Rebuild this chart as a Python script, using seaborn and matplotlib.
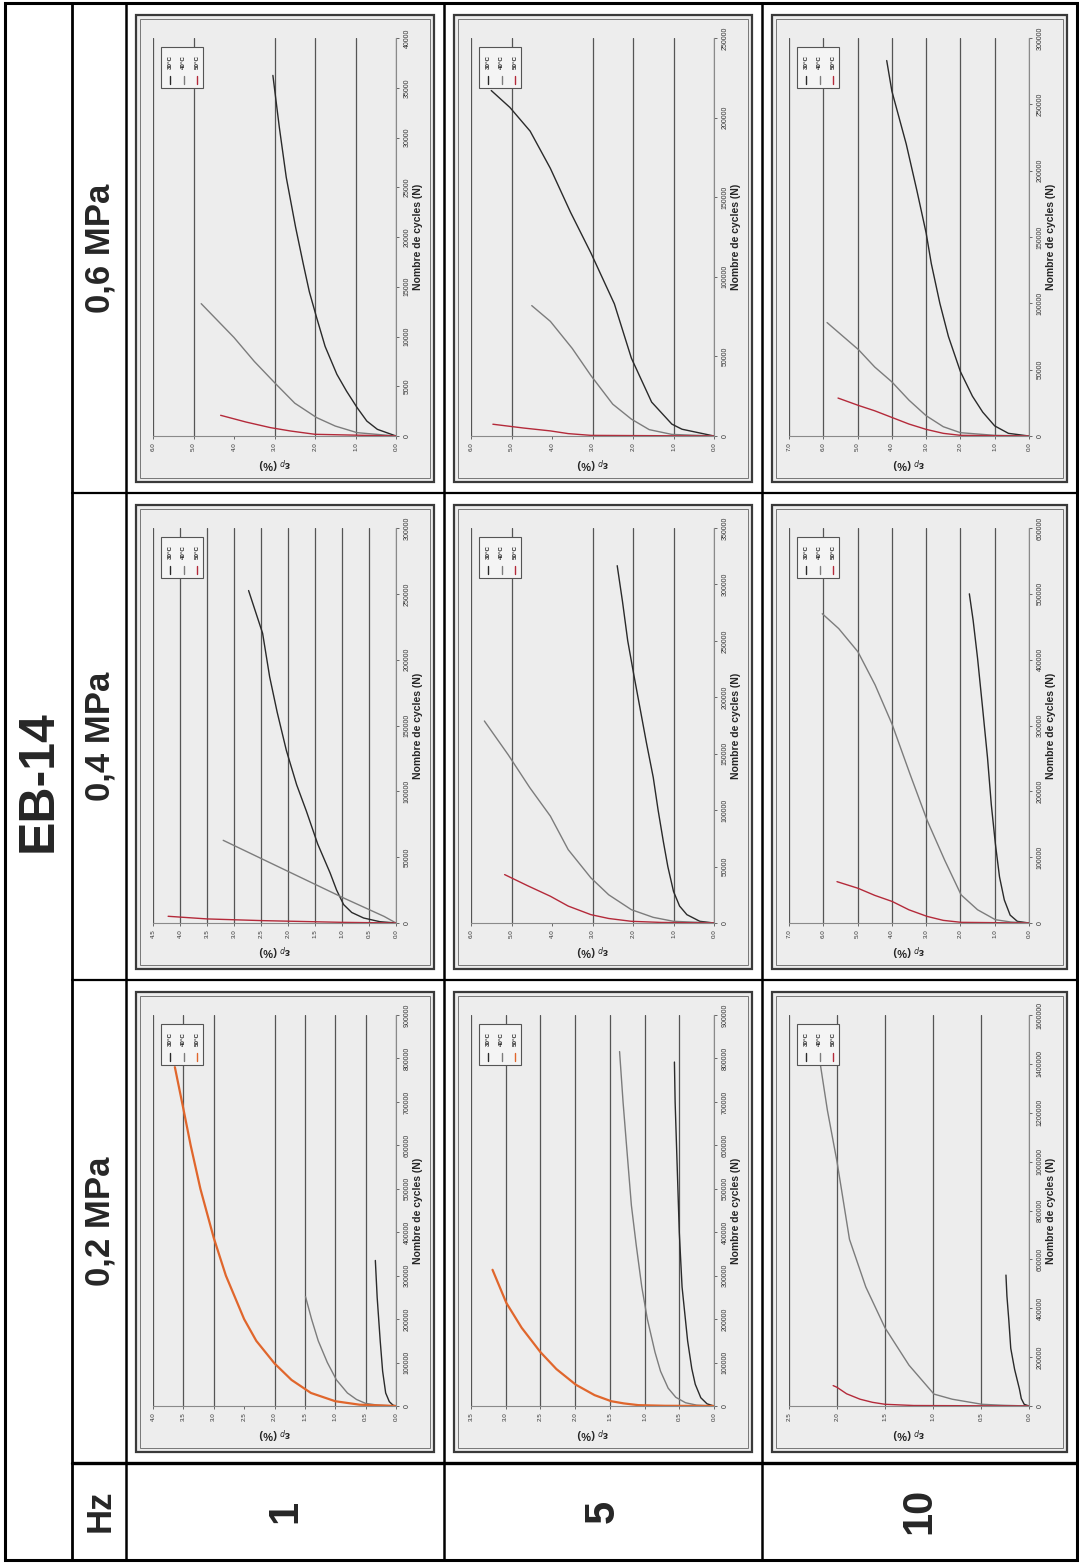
import numpy as np
import pandas as pd
import matplotlib
matplotlib.use("Agg")
import matplotlib.pyplot as plt
from matplotlib.patches import Rectangle
from matplotlib.ticker import FuncFormatter
import seaborn as sns

# Style de base, puis police (set_theme remet font.family à zéro)
sns.set_theme(style="white")
plt.rcParams["font.family"] = ["Liberation Sans", "DejaVu Sans"]

# Tableau EB-14 : déformation permanente en fonction du nombre de cycles
titre = "EB-14"
pressions = ["0,6 MPa", "0,4 MPa", "0,2 MPa"]   # lignes de la page (haut -> bas)
frequences = ["1", "5", "10"]                    # colonnes de la page (gauche -> droite)
temperatures = ["30°C", "40°C", "50°C"]
label_n = "Nombre de cycles (N)"
label_ep = "ε$_p$ (%)"

# Limites des axes [pression][fréquence]
ep_max = [[6.0, 6.0, 7.0], [4.5, 6.0, 7.0], [4.0, 3.5, 2.5]]
ep_pas = [[1.0, 1.0, 1.0], [0.5, 1.0, 1.0], [0.5, 0.5, 0.5]]
n_max = [[40000, 250000, 300000], [300000, 350000, 600000], [900000, 900000, 1600000]]
n_pas = [[5000, 50000, 50000], [50000, 50000, 100000], [100000, 100000, 200000]]

# Courbes (30°C, 40°C, 50°C) : nombre de cycles et déformation (%)
n_1hz_06 = ([0, 670, 1500, 2850, 4500, 6200, 9000, 11900, 14500, 17300, 21000, 26000, 31000, 36240],
            [0, 335, 1000, 1850, 3300, 5200, 7500, 9900, 13300],
            [0, 170, 500, 840, 1400, 2080])
ep_1hz_06 = ([0, 0.46, 0.72, 0.96, 1.22, 1.46, 1.75, 1.96, 2.14, 2.29, 2.48, 2.71, 2.88, 3.04],
             [0, 0.96, 1.5, 1.96, 2.5, 2.96, 3.5, 4.0, 4.81],
             [0, 2.0, 2.6, 3.1, 3.7, 4.33])

n_5hz_06 = ([0, 4260, 7450, 21300, 48900, 83000, 115000, 140400, 168100, 191500, 206400, 217000],
            [0, 1000, 4000, 10600, 20000, 38000, 55000, 72000, 81900],
            [0, 400, 1500, 3200, 5000, 7400])
ep_5hz_06 = ([0, 0.79, 1.04, 1.54, 2.04, 2.46, 3.04, 3.54, 4.04, 4.54, 5.04, 5.5],
             [0, 1.04, 1.6, 2.04, 2.5, 3.04, 3.5, 4.04, 4.5],
             [0, 3.04, 3.6, 4.04, 4.7, 5.46])

n_10hz_06 = ([0, 2000, 7600, 18000, 30000, 48500, 75000, 100000, 130000, 153000, 185000, 220000, 260000, 283000],
             [0, 500, 2500, 7000, 15300, 27000, 40800, 52000, 65000, 85500],
             [0, 500, 2000, 5000, 9000, 14000, 19000, 23000, 28600])
ep_10hz_06 = ([0, 0.6, 1.0, 1.35, 1.65, 2.0, 2.35, 2.6, 2.85, 3.0, 3.27, 3.58, 4.0, 4.15],
              [0, 1.0, 2.0, 2.5, 3.0, 3.5, 4.0, 4.5, 4.97, 5.89],
              [0, 2.0, 2.5, 3.0, 3.5, 4.0, 4.5, 4.97, 5.57])

n_1hz_04 = ([0, 1000, 3800, 8000, 14000, 25000, 38000, 60000, 85000, 105000, 131000, 160000, 187000, 220000, 252500],
            [0, 5000, 19000, 40000, 62800],
            [0, 500, 1800, 3100, 5100])
ep_1hz_04 = ([0, 0.3, 0.6, 0.82, 0.97, 1.1, 1.22, 1.45, 1.66, 1.84, 2.03, 2.2, 2.34, 2.47, 2.73],
             [0, 0.22, 0.97, 2.04, 3.2],
             [0, 1.0, 2.47, 3.5, 4.22])

n_5hz_04 = ([0, 1500, 7400, 15000, 28000, 50000, 72000, 100000, 129000, 160000, 191000, 220000, 250000, 285000, 316600],
            [0, 1500, 5000, 11800, 25000, 40000, 65000, 94700, 120000, 149000, 179000],
            [0, 500, 1500, 4000, 7400, 15000, 23700, 33000, 42900])
ep_5hz_04 = ([0, 0.35, 0.67, 0.85, 1.0, 1.14, 1.25, 1.38, 1.5, 1.67, 1.83, 1.98, 2.13, 2.26, 2.39],
             [0, 1.0, 1.5, 2.04, 2.6, 3.04, 3.6, 4.04, 4.55, 5.08, 5.67],
             [0, 1.3, 2.04, 2.6, 3.04, 3.6, 4.04, 4.6, 5.17])

n_10hz_04 = ([0, 2500, 12000, 35000, 70000, 120000, 180000, 251000, 330000, 402000, 460000, 500000],
             [0, 1500, 5000, 20100, 42700, 95500, 155800, 226100, 301500, 361800, 412000, 447200, 469800],
             [0, 1000, 4000, 10000, 20000, 32700, 42000, 52800, 62800])
ep_10hz_04 = ([0, 0.34, 0.55, 0.72, 0.86, 0.98, 1.1, 1.21, 1.36, 1.5, 1.63, 1.74],
              [0, 0.53, 0.98, 1.5, 1.98, 2.46, 2.97, 3.47, 3.99, 4.49, 4.99, 5.55, 6.03],
              [0, 1.98, 2.5, 2.97, 3.5, 3.99, 4.5, 4.99, 5.6])

n_1hz_02 = ([0, 2000, 10000, 30000, 80000, 150000, 250000, 335000],
            [0, 2000, 6000, 15000, 30000, 60000, 100000, 150000, 200000, 252000],
            [0, 3000, 11000, 30000, 60000, 98000, 150000, 200000, 300000, 387000, 500000, 600000, 684000, 780000])
ep_1hz_02 = ([0, 0.05, 0.11, 0.17, 0.22, 0.26, 0.31, 0.34],
             [0, 0.3, 0.5, 0.65, 0.8, 0.98, 1.13, 1.28, 1.39, 1.49],
             [0, 0.6, 1.0, 1.4, 1.72, 2.0, 2.3, 2.5, 2.8, 3.0, 3.22, 3.38, 3.5, 3.64])

n_5hz_02 = ([0, 5000, 19000, 50000, 86000, 150000, 274000, 400000, 550000, 700000, 791700],
            [0, 2000, 7500, 20000, 41000, 80000, 124000, 200000, 274000, 370000, 462000, 600000, 700000, 815800],
            [0, 500, 2000, 6000, 11000, 25000, 49000, 85000, 124000, 180000, 237000, 313500])
ep_5hz_02 = ([0, 0.1, 0.19, 0.27, 0.32, 0.38, 0.46, 0.5, 0.53, 0.56, 0.57],
             [0, 0.25, 0.41, 0.55, 0.66, 0.77, 0.85, 0.96, 1.04, 1.12, 1.19, 1.26, 1.31, 1.36],
             [0, 0.7, 1.09, 1.3, 1.48, 1.72, 1.99, 2.27, 2.5, 2.77, 2.99, 3.19])

n_10hz_02 = ([0, 7000, 30000, 70000, 150000, 236000, 350000, 450000, 535700],
             [0, 2800, 7000, 27800, 48700, 167000, 320000, 487000, 682000, 1000000, 1210000, 1440000],
             [0, 2000, 7000, 15000, 27800, 50000, 76500, 83500])
ep_10hz_02 = ([0, 0.05, 0.08, 0.1, 0.15, 0.19, 0.21, 0.23, 0.24],
              [0, 0.26, 0.49, 0.8, 0.99, 1.25, 1.5, 1.7, 1.87, 2.0, 2.1, 2.19],
              [0, 1.2, 1.5, 1.63, 1.76, 1.9, 2.0, 2.04])

cycles = [[n_1hz_06, n_5hz_06, n_10hz_06],
          [n_1hz_04, n_5hz_04, n_10hz_04],
          [n_1hz_02, n_5hz_02, n_10hz_02]]
deformations = [[ep_1hz_06, ep_5hz_06, ep_10hz_06],
                [ep_1hz_04, ep_5hz_04, ep_10hz_04],
                [ep_1hz_02, ep_5hz_02, ep_10hz_02]]

# Couleurs des courbes
c30, c40, c_rouge, c_orange = "#2a2a2a", "#7c7c7c", "#b42a3a", "#e0662c"
couleur_50 = [[c_rouge, c_rouge, c_rouge], [c_rouge, c_rouge, c_rouge], [c_orange, c_orange, c_rouge]]

# Géométrie de la page (pixels) - la page est tournée de 90°
W, H = 1079, 1564
col_x = [126, 444, 762, 1077]
row_y = [3, 493, 980, 1463]

fig = plt.figure(figsize=(W / 100, H / 100), dpi=100)
fig.patch.set_facecolor("white")

bg = fig.add_axes([0, 0, 1, 1], zorder=0)
bg.set_xlim(0, W)
bg.set_ylim(H, 0)
bg.axis("off")

top = fig.add_axes([0, 0, 1, 1], zorder=5)
top.set_xlim(0, W)
top.set_ylim(H, 0)
top.axis("off")
top.patch.set_alpha(0)

# Lignes du tableau
bg.add_patch(Rectangle((5, 3), 1072, 1557, fill=False, lw=2.2, ec="black"))
bg.plot([72, 72], [3, 1560], color="black", lw=2.0)
bg.plot([126, 126], [3, 1560], color="black", lw=1.8)
for x in col_x[1:3]:
    bg.plot([x, x], [3, 1560], color="black", lw=1.8)
for y in row_y[1:3]:
    bg.plot([72, 1077], [y, y], color="black", lw=1.6)
bg.plot([72, 1077], [1463, 1463], color="black", lw=2.4)

# Textes du tableau
bg.text(39, 781, titre, rotation=90, fontsize=36, fontweight="bold", ha="center", va="center")
for r, p in enumerate(pressions):
    bg.text(100, (row_y[r] + row_y[r + 1]) / 2, p, rotation=90, fontsize=25,
            fontweight="bold", ha="center", va="center")
bg.text(100, 1511, "Hz", rotation=90, fontsize=25, fontweight="bold", ha="center", va="center")
for c, f in enumerate(frequences):
    bg.text((col_x[c] + col_x[c + 1]) / 2, 1511, f, rotation=90, fontsize=30,
            fontweight="bold", ha="center", va="center")

fmt_n = FuncFormatter(lambda v, p: f"{int(round(v))}")
fmt_ep = FuncFormatter(lambda v, p: f"{v:.1f}")

for r in range(3):
    for c in range(3):
        # cadre double du graphique
        fx0, fx1 = col_x[c] + 10, col_x[c + 1] - 10
        fy0, fy1 = row_y[r] + 12, row_y[r + 1] - 11
        bg.add_patch(Rectangle((fx0, fy0), fx1 - fx0, fy1 - fy0, fc="#ededed", ec="#3a3a3a", lw=1.6))
        bg.add_patch(Rectangle((fx0 + 4, fy0 + 4), fx1 - fx0 - 8, fy1 - fy0 - 8, fill=False, ec="#777777", lw=0.7))

        # zone de tracé (axe des cycles vertical, déformation horizontale inversée)
        x0, x1 = col_x[c] + 27, col_x[c + 1] - 48
        yt, yb = row_y[r] + 35, row_y[r + 1] - 57
        ax = fig.add_axes([x0 / W, 1 - yb / H, (x1 - x0) / W, (yb - yt) / H], zorder=2)
        ax.patch.set_alpha(0)

        palette = {temperatures[0]: c30, temperatures[1]: c40, temperatures[2]: couleur_50[r][c]}
        df = pd.concat([pd.DataFrame({"N": n, "ep": e, "temp": t})
                        for t, n, e in zip(temperatures, cycles[r][c], deformations[r][c])],
                       ignore_index=True)
        sns.lineplot(data=df, x="ep", y="N", hue="temp", palette=palette, sort=False,
                     estimator=None, legend=False, ax=ax, linewidth=1.0)
        for line in ax.get_lines():
            if line.get_color() == c_orange:
                line.set_linewidth(1.6)

        emax, estep = ep_max[r][c], ep_pas[r][c]
        nmax, nstep = n_max[r][c], n_pas[r][c]
        ax.set_xlim(emax, 0)
        ax.set_ylim(0, nmax)
        ax.set_xticks(np.arange(0, emax + estep / 2, estep))
        ax.set_yticks(np.arange(0, nmax + nstep / 2, nstep))
        ax.xaxis.set_major_formatter(fmt_ep)
        ax.yaxis.set_major_formatter(fmt_n)
        ax.yaxis.tick_right()
        ax.yaxis.set_label_position("right")
        ax.tick_params(axis="x", labelsize=4.5, length=2.5, width=0.5, colors="#333333",
                       pad=2, labelrotation=90, bottom=True)
        ax.tick_params(axis="y", labelsize=5, length=2.5, width=0.5, colors="#333333",
                       pad=3, labelrotation=90, right=True, left=False)
        plt.setp(ax.get_yticklabels(), va="center", ha="left")

        ax.grid(axis="x", color="#555555", linewidth=0.9)
        ax.grid(axis="y", visible=False)
        for tick in ax.xaxis.get_major_ticks():
            if abs(tick.get_loc() - emax) < 1e-9:
                tick.gridline.set_visible(False)

        ax.spines["left"].set_visible(False)
        ax.spines["top"].set_visible(False)
        ax.spines["right"].set_color("#8a8a8a")
        ax.spines["right"].set_linewidth(0.8)
        ax.spines["bottom"].set_color("#8a8a8a")
        ax.spines["bottom"].set_linewidth(0.8)

        ax.set_xlabel(label_ep, rotation=180, fontsize=8, fontweight="bold", labelpad=2)
        ax.set_ylabel(label_n, rotation=90, fontsize=7.5, fontweight="bold", labelpad=2)

        # légende tournée
        lx, ly = x0 + 8, yt + 9
        top.add_patch(Rectangle((lx, ly), 42, 41, fc="#f4f4f4", ec="#555555", lw=0.8))
        for k, (t, col) in enumerate(zip(temperatures, [c30, c40, couleur_50[r][c]])):
            cx = lx + 9 + k * 13.5
            top.text(cx, ly + 15, t, rotation=90, fontsize=4.5, fontweight="bold",
                     ha="center", va="center")
            top.plot([cx, cx], [ly + 37, ly + 29], color=col, lw=1.0)

fig.savefig("out.png", dpi=100)
